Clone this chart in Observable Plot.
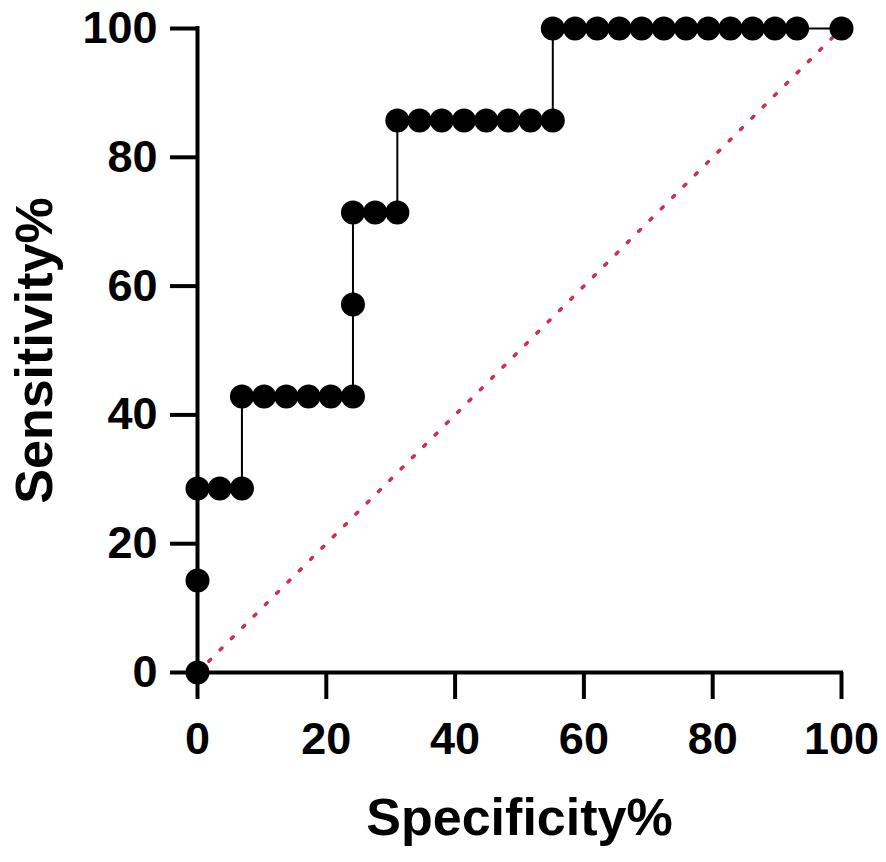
<!DOCTYPE html>
<html>
<head>
<meta charset="utf-8">
<script src="https://cdn.jsdelivr.net/npm/d3@7"></script>
<script src="https://cdn.jsdelivr.net/npm/@observablehq/plot@0.6"></script>
<style>
  html, body { margin: 0; padding: 0; background: #fff; }
  #chart svg { display: block; }
</style>
</head>
<body>
<div id="chart"></div>
<script>
// ROC curve data (Specificity% on x, Sensitivity% on y)
const specificity = [0, 0, 0, 3.45, 6.90, 6.90, 10.34, 13.79, 17.24, 20.69, 24.14, 24.14, 24.14,
  27.59, 31.03, 31.03, 34.48, 37.93, 41.38, 44.83, 48.28, 51.72, 55.17, 55.17,
  58.62, 62.07, 65.52, 68.97, 72.41, 75.86, 79.31, 82.76, 86.21, 89.66, 93.10, 100];
const sensitivity = [0, 14.29, 28.57, 28.57, 28.57, 42.86, 42.86, 42.86, 42.86, 42.86, 42.86, 57.14, 71.43,
  71.43, 71.43, 85.71, 85.71, 85.71, 85.71, 85.71, 85.71, 85.71, 85.71, 100,
  100, 100, 100, 100, 100, 100, 100, 100, 100, 100, 100, 100];
const refX = [0, 100];
const refY = [0, 100];
const xTicks = [0, 20, 40, 60, 80, 100];
const yTicks = [0, 20, 40, 60, 80, 100];
const xTitle = "Specificity%";
const yTitle = "Sensitivity%";

const roc = specificity.map((s, i) => ({x: s, y: sensitivity[i]}));
const ref = refX.map((v, i) => ({x: v, y: refY[i]}));

const chart = Plot.plot({
  width: 886,
  height: 862,
  marginLeft: 197,
  marginRight: 45,
  marginTop: 28,
  marginBottom: 190,
  style: {fontFamily: "'Liberation Sans', Arial, sans-serif", fontWeight: "bold", color: "#000", background: "#fff"},
  x: {domain: [0, 100]},
  y: {domain: [0, 100]},
  marks: [
    Plot.line(ref, {x: "x", y: "y", stroke: "#cf2d52", strokeWidth: 3.5, strokeDasharray: "2.5,13.5", strokeLinecap: "round"}),
    Plot.line(roc, {x: "x", y: "y", stroke: "#000", strokeWidth: 2}),
    Plot.ruleX([0], {stroke: "#000", strokeWidth: 4, strokeLinecap: "square"}),
    Plot.ruleY([0], {stroke: "#000", strokeWidth: 4, strokeLinecap: "square"}),
    Plot.axisX({ticks: xTicks, tickSize: 27, tickPadding: 23, fontSize: 45, strokeWidth: 4, tickFormat: d => String(d), label: null}),
    Plot.axisY({ticks: yTicks, tickSize: 27, tickPadding: 13, fontSize: 45, strokeWidth: 4, tickFormat: d => String(d), label: null}),
    Plot.dot(roc, {x: "x", y: "y", r: 12, fill: "#000", stroke: "none"}),
    Plot.text([xTitle], {frameAnchor: "bottom", dy: 146, textAnchor: "middle", lineAnchor: "middle", fontSize: 52, fontWeight: "bold", fill: "#000"}),
    Plot.text([yTitle], {frameAnchor: "left", dx: -162, rotate: -90, textAnchor: "middle", lineAnchor: "middle", fontSize: 52, fontWeight: "bold", fill: "#000"})
  ]
});
document.getElementById("chart").appendChild(chart);
</script>
</body>
</html>
